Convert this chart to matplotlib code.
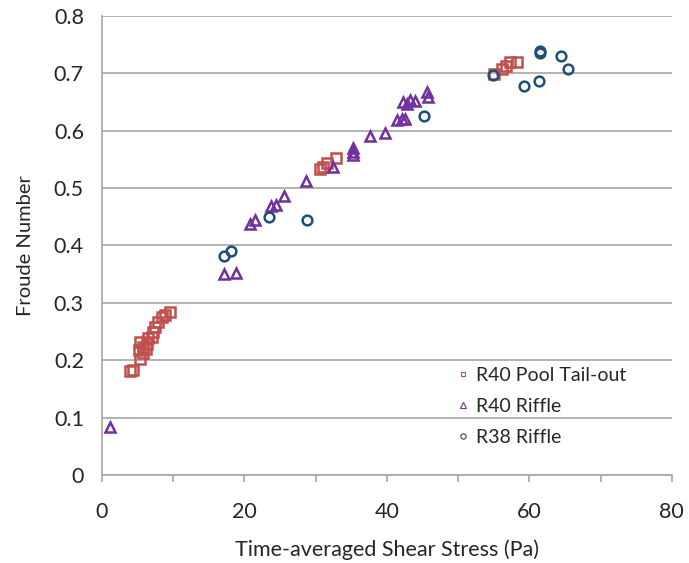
import numpy as np
import matplotlib.pyplot as plt

plt.rcParams['font.family'] = ['Lato', 'DejaVu Sans']

# R40 pool tail-out
pool_x = [4.0, 4.3, 5.4, 5.2, 5.3, 5.8, 5.8, 6.3, 6.5, 7.0, 7.2, 7.4, 7.9, 8.4, 8.8, 9.6, 6.2,
          30.6, 31.0, 31.6, 32.9, 55.0, 56.1, 56.7, 57.3, 58.2]
pool_y = [0.182, 0.183, 0.202, 0.218, 0.232, 0.224, 0.212, 0.229, 0.238, 0.241, 0.250, 0.258,
          0.267, 0.276, 0.279, 0.284, 0.219,
          0.534, 0.537, 0.543, 0.552, 0.699, 0.707, 0.712, 0.719, 0.719]

# R40 riffle
r40_x = [1.1, 17.1, 18.8, 20.8, 21.5, 23.8, 24.5, 25.5, 28.7, 32.4, 35.2, 35.3, 35.2,
         37.7, 39.7, 41.4, 42.1, 42.6, 42.2, 42.8, 43.2, 43.9, 45.7, 45.8]
r40_y = [0.084, 0.351, 0.352, 0.438, 0.445, 0.469, 0.470, 0.486, 0.513, 0.537, 0.557, 0.569,
         0.562, 0.590, 0.595, 0.618, 0.621, 0.620, 0.650, 0.647, 0.653, 0.652, 0.668, 0.659]

# R38 riffle
r38_x = [17.1, 18.1, 23.4, 28.8, 45.2, 54.9, 59.2, 61.4, 61.5, 61.5, 64.4, 65.5]
r38_y = [0.381, 0.390, 0.449, 0.444, 0.626, 0.697, 0.677, 0.687, 0.739, 0.736, 0.730, 0.707]

fig = plt.figure(figsize=(6.89, 5.63), dpi=100)
ax = fig.add_axes([0.148, 0.156, 0.827, 0.816])

ms = 7
mew = 1.8
ax.plot(pool_x, pool_y, 's', ms=ms - 0.5, mfc='none', mec='#C0504D', mew=mew, label='R40 Pool Tail-out')
ax.plot(r40_x, r40_y, '^', ms=ms, mfc='none', mec='#7030A0', mew=mew, label='R40 Riffle')
ax.plot(r38_x, r38_y, 'o', ms=ms, mfc='none', mec='#1F4E79', mew=mew, label='R38 Riffle')

ax.set_xlim(0, 80)
ax.set_ylim(0, 0.8)
ax.set_xticks(np.arange(0, 81, 10))
ax.set_xticklabels(['0', '', '20', '', '40', '', '60', '', '80'])
ax.set_yticks(np.arange(0, 0.81, 0.1))
ax.set_yticklabels(['0', '0.1', '0.2', '0.3', '0.4', '0.5', '0.6', '0.7', '0.8'])

ax.grid(axis='y', color='#A6A6A6', lw=1.2)
ax.set_axisbelow(True)
for s in ['top', 'right']:
    ax.spines[s].set_visible(False)
for s in ['left', 'bottom']:
    ax.spines[s].set_color('#A6A6A6')
    ax.spines[s].set_linewidth(1.2)
ax.tick_params(axis='both', colors='#A6A6A6', labelcolor='#262626', labelsize=15.5, length=5, width=1.2)
ax.tick_params(axis='y', length=0, pad=13)
ax.tick_params(axis='x', pad=14)

ax.set_xlabel('Time-averaged Shear Stress (Pa)', fontsize=15.5, color='#262626', labelpad=13)
ax.set_ylabel('Froude Number', fontsize=14.5, color='#262626', labelpad=14)

leg = ax.legend(loc='lower right', bbox_to_anchor=(0.95, 0.025), frameon=False, fontsize=14,
                handlelength=0.5, handletextpad=0.4, labelspacing=0.72, markerscale=0.55)
for t in leg.get_texts():
    t.set_color('#262626')
for h in leg.legend_handles:
    h.set_markeredgewidth(0.8)

fig.savefig('out.png', dpi=100)
